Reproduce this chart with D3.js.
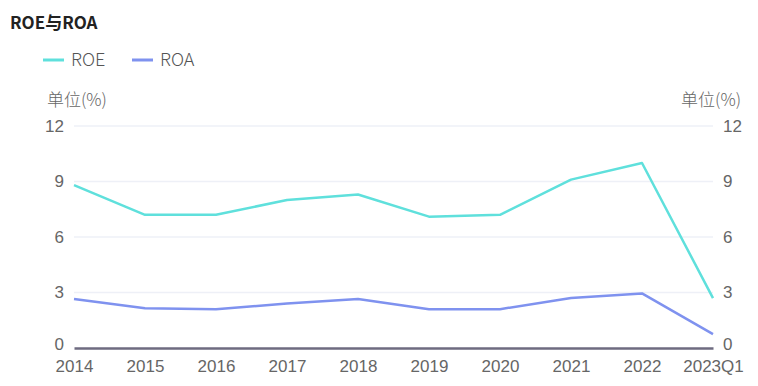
<!DOCTYPE html>
<html>
<head>
<meta charset="utf-8">
<script src="https://cdn.jsdelivr.net/npm/d3@7"></script>
<style>
  body { margin: 0; background: #fff; font-family: "Noto Sans CJK SC", "Noto Sans", sans-serif; }
</style>
</head>
<body>
<script>
// data
const years = ["2014", "2015", "2016", "2017", "2018", "2019", "2020", "2021", "2022", "2023Q1"];
const roe = [8.8, 7.2, 7.2, 8.0, 8.3, 7.1, 7.2, 9.1, 10.0, 2.7];
const roa = [2.65, 2.15, 2.1, 2.4, 2.65, 2.1, 2.1, 2.7, 2.95, 0.75];
const yTicks = [0, 3, 6, 9, 12];

const W = 758, H = 386;
const colors = { ROE: "#5fe0dc", ROA: "#7f92ef" };
const fs = "17px";

const svg = d3.select("body").append("svg")
  .attr("width", W).attr("height", H);

// title
svg.append("text")
  .attr("x", 10).attr("y", 29)
  .style("font-size", "17px")
  .style("font-weight", "bold")
  .attr("fill", "#222")
  .text("ROE与ROA");

// legend
const legend = [{ name: "ROE", x: 43 }, { name: "ROA", x: 132 }];
legend.forEach(d => {
  svg.append("line")
    .attr("x1", d.x).attr("x2", d.x + 21)
    .attr("y1", 60).attr("y2", 60)
    .attr("stroke", colors[d.name]).attr("stroke-width", 3);
  svg.append("text")
    .attr("x", d.x + 28).attr("y", 66)
    .style("font-size", "18px")
    .style("font-weight", 300)
    .attr("fill", "#555")
    .text(d.name);
});

const x = d3.scalePoint().domain(years).range([74, 713]);
const y = d3.scaleLinear().domain([0, 12]).range([348, 126]);

// grid
svg.selectAll(".grid")
  .data(yTicks.filter(t => t > 0))
  .enter().append("line")
  .attr("x1", 74).attr("x2", 713)
  .attr("y1", d => y(d)).attr("y2", d => y(d))
  .attr("stroke", "#eef0f7").attr("stroke-width", 1.5);

function styleText(g) {
  g.selectAll("text")
    .style("font-size", fs)
    .style("font-weight", 300)
    .style("font-family", "inherit")
    .attr("fill", "#666");
}

// left axis
const axisL = svg.append("g")
  .attr("transform", "translate(74,0)")
  .call(d3.axisLeft(y).tickValues(yTicks).tickSize(0).tickPadding(10));
axisL.select(".domain").remove();
styleText(axisL);

// right axis
const axisR = svg.append("g")
  .attr("transform", "translate(713,0)")
  .call(d3.axisRight(y).tickValues(yTicks).tickSize(0).tickPadding(10));
axisR.select(".domain").remove();
styleText(axisR);
// pull the zero labels up a little so they clear the year labels
axisL.selectAll(".tick").filter(d => d === 0).select("text").attr("dy", "0.1em");
axisR.selectAll(".tick").filter(d => d === 0).select("text").attr("dy", "0.1em");

// unit labels
svg.append("text").attr("x", 47).attr("y", 106)
  .style("font-size", fs).style("font-weight", 300).attr("fill", "#666").text("单位(%)");
svg.append("text").attr("x", 741).attr("y", 106)
  .attr("text-anchor", "end")
  .style("font-size", fs).style("font-weight", 300).attr("fill", "#666").text("单位(%)");

// x axis
const axisB = svg.append("g")
  .attr("transform", "translate(0,348)")
  .call(d3.axisBottom(x).tickSize(0).tickPadding(12));
axisB.select(".domain").attr("stroke", "#6e6b80").attr("stroke-width", 2.5);
styleText(axisB);

// lines
const line = d3.line()
  .x((d, i) => x(years[i]))
  .y(d => y(d));

[["ROE", roe], ["ROA", roa]].forEach(([name, vals]) => {
  svg.append("path")
    .datum(vals)
    .attr("fill", "none")
    .attr("stroke", colors[name])
    .attr("stroke-width", 2.5)
    .attr("stroke-linejoin", "round")
    .attr("d", line);
});
</script>
</body>
</html>
